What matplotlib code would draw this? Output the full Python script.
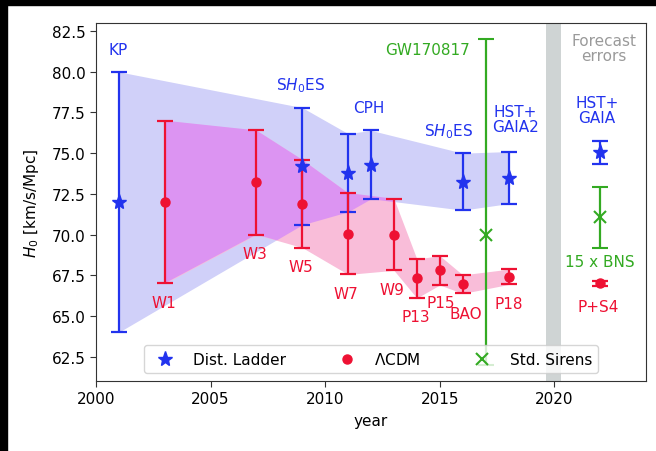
import matplotlib
matplotlib.use('Agg')
import matplotlib.pyplot as plt
from matplotlib.lines import Line2D
from matplotlib.patches import Rectangle
import numpy as np

# distance ladder measurements
dl_year = [2001, 2009, 2011, 2012, 2016, 2018]
dl_h0 = [72.0, 74.2, 73.8, 74.3, 73.25, 73.5]
dl_err = [8.0, 3.6, 2.4, 2.1, 1.75, 1.6]

# LCDM (CMB/BAO) inferences
cmb_year = [2003, 2007, 2009, 2011, 2013, 2014, 2015, 2016, 2018]
cmb_h0 = [72.0, 73.2, 71.9, 70.05, 70.0, 67.3, 67.8, 66.95, 67.4]
cmb_err = [5.0, 3.2, 2.7, 2.5, 2.2, 1.2, 0.9, 0.57, 0.47]

# standard sirens
gw_year = [2017]
gw_h0 = [70.0]
gw_lo = [8.0]
gw_hi = [12.0]

# forecasts
fc_year = 2022
fc_dl = (75.05, 0.7)
fc_gw = (71.05, 1.85)
fc_cmb = (67.0, 0.15)

blue = '#2233ee'
red = '#ee1133'
green = '#33aa22'
fs = 11

fig = plt.figure(figsize=(6.56, 4.52), dpi=100)
ax = fig.add_axes([0.1463, 0.1549, 0.8385, 0.792])

# shaded envelopes (overlap drawn as blue band clipped to the pink one)
dl_lo = np.array(dl_h0) - dl_err
dl_hi = np.array(dl_h0) + dl_err
ax.fill_between(dl_year, dl_lo, dl_hi, color='#d0d0f9', lw=0, zorder=1)
pink = ax.fill_between(cmb_year, np.array(cmb_h0) - cmb_err,
                       np.array(cmb_h0) + cmb_err,
                       color='#f9bdd9', lw=0, zorder=1.1)
over = ax.fill_between(dl_year, dl_lo, dl_hi, color='#dc94f2', lw=0, zorder=1.2)
over.set_clip_path(pink.get_paths()[0], ax.transData)
ax.axvspan(2019.65, 2020.3, color='#cfd4d4', lw=0, zorder=1)

ekw = dict(elinewidth=1.6, capsize=6, capthick=1.6, ls='none', zorder=3)
ax.errorbar(dl_year, dl_h0, yerr=dl_err, fmt='*', color=blue, ms=11, **ekw)
ax.errorbar(cmb_year, cmb_h0, yerr=cmb_err, fmt='o', color=red, ms=6.5, **ekw)
ax.errorbar(gw_year, gw_h0, yerr=[gw_lo, gw_hi], fmt='x', color=green, ms=9,
            mew=1.5, **ekw)
ax.errorbar([fc_year], [fc_dl[0]], yerr=[fc_dl[1]], fmt='*', color=blue, ms=11, **ekw)
ax.errorbar([fc_year], [fc_gw[0]], yerr=[fc_gw[1]], fmt='x', color=green, ms=9,
            mew=1.5, **ekw)
ax.errorbar([fc_year], [fc_cmb[0]], yerr=[fc_cmb[1]], fmt='o', color=red, ms=6.5, **ekw)

# labels
labels = [
    ('KP', 2000.96, 81.4, blue),
    ('S$H_0$ES', 2008.9, 79.2, blue),
    ('CPH', 2011.9, 77.8, blue),
    ('S$H_0$ES', 2015.4, 76.4, blue),
    ('HST+\nGAIA2', 2018.3, 77.1, blue),
    ('HST+\nGAIA', 2021.85, 77.65, blue),
    ('W1', 2002.97, 65.85, red),
    ('W3', 2006.94, 68.85, red),
    ('W5', 2008.94, 68.05, red),
    ('W7', 2010.9, 66.35, red),
    ('W9', 2012.93, 66.65, red),
    ('P13', 2013.94, 64.95, red),
    ('P15', 2015.03, 65.8, red),
    ('BAO', 2016.15, 65.15, red),
    ('P18', 2018.0, 65.75, red),
    ('P+S4', 2021.9, 65.55, red),
    ('15 x BNS', 2022.0, 68.35, green),
    ('GW170817', 2014.48, 81.36, green),
    ('Forecast\nerrors', 2022.15, 81.45, '#9a9a9a'),
]
for txt, x, y, c in labels:
    ax.text(x, y, txt, color=c, fontsize=fs, ha='center', va='center',
            linespacing=1.0, zorder=4)

ax.set_xlim(2000, 2024)
ax.set_ylim(61, 83)
ax.set_xticks([2000, 2005, 2010, 2015, 2020])
ax.set_yticks(np.arange(62.5, 82.6, 2.5))
ax.set_xlabel('year', fontsize=fs, labelpad=5)
ax.set_ylabel('$H_0$ [km/s/Mpc]', fontsize=fs, labelpad=8)
ax.tick_params(labelsize=fs, color='#333333', length=4)
for s in ax.spines.values():
    s.set_color('#333333')

handles = [
    Line2D([], [], marker='*', color=blue, ls='none', ms=11),
    Line2D([], [], marker='o', color=red, ls='none', ms=6.5),
    Line2D([], [], marker='x', color=green, ls='none', ms=9, mew=1.5),
]
leg = ax.legend(handles, ['Dist. Ladder', '$\\Lambda$CDM', 'Std. Sirens'],
                loc='lower center', ncol=3, fontsize=fs, columnspacing=3.0)
leg.set_zorder(5)

# black border strips at top and left of the image
fig.patches.append(Rectangle((0, 1 - 6 / 452), 1, 6 / 452, transform=fig.transFigure,
                             color='black', zorder=10))
fig.patches.append(Rectangle((0, 0), 7 / 656, 1, transform=fig.transFigure,
                             color='black', zorder=10))

fig.savefig('out.png', dpi=100)
